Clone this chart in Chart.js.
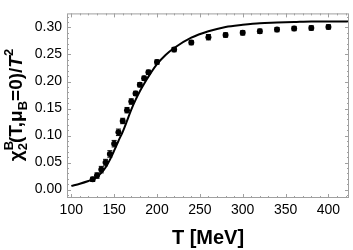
<!DOCTYPE html>
<html>
<head>
<meta charset="utf-8">
<script src="https://cdn.jsdelivr.net/npm/chart.js@4.4.1/dist/chart.umd.min.js"></script>
<style>
  html, body { margin: 0; padding: 0; background: #fff; }
  #wrap { width: 353px; height: 250px; }
</style>
</head>
<body>
<div id="wrap"><canvas id="c"></canvas></div>
<script>
// curva (modelo)
const curveT = [100, 110, 120, 125, 130, 135, 140, 145, 150, 155, 160, 165, 170, 175, 180, 185, 190, 200, 210, 220, 240, 260, 280, 300, 320, 340, 360, 380, 400, 424];
const curveChi = [0.0069, 0.011, 0.016, 0.019, 0.024, 0.031, 0.041, 0.055, 0.072, 0.090, 0.107, 0.127, 0.148, 0.166, 0.182, 0.196, 0.209, 0.232, 0.249, 0.262, 0.281, 0.293, 0.301, 0.305, 0.308, 0.309, 0.310, 0.311, 0.311, 0.311];

// datos de lattice
const latT = [125, 130, 135, 140, 145, 150, 155, 160, 165, 170, 175, 180, 185, 190, 200, 220, 240, 260, 280, 300, 320, 340, 360, 380, 400];
const latChi = [0.019, 0.026, 0.037, 0.050, 0.066, 0.085, 0.106, 0.127, 0.147, 0.163, 0.178, 0.194, 0.206, 0.217, 0.236, 0.259, 0.272, 0.282, 0.286, 0.290, 0.293, 0.296, 0.298, 0.299, 0.301];
const latErr = [0.004, 0.005, 0.006, 0.006, 0.006, 0.006, 0.006, 0.005, 0.005, 0.005, 0.004, 0.004, 0.004, 0.004, 0.004, 0.004, 0.004, 0.005, 0.004, 0.004, 0.004, 0.004, 0.004, 0.004, 0.004];

const xTicks = [100, 150, 200, 250, 300, 350, 400];
const yTicks = [0.00, 0.05, 0.10, 0.15, 0.20, 0.25, 0.30];

const frameColor = '#a0a0a0';

// barras de error
const errorBars = {
  id: 'errorBars',
  afterDatasetsDraw(chart) {
    const { ctx, scales: { x, y } } = chart;
    ctx.save();
    ctx.strokeStyle = '#000';
    ctx.lineWidth = 1;
    latT.forEach((t, i) => {
      const px = x.getPixelForValue(t);
      const top = y.getPixelForValue(latChi[i] + latErr[i]);
      const bot = y.getPixelForValue(latChi[i] - latErr[i]);
      ctx.beginPath();
      ctx.moveTo(px, top); ctx.lineTo(px, bot);
      ctx.moveTo(px - 2.5, top); ctx.lineTo(px + 2.5, top);
      ctx.moveTo(px - 2.5, bot); ctx.lineTo(px + 2.5, bot);
      ctx.stroke();
    });
    ctx.restore();
  }
};

// marco con ticks hacia adentro (estilo Mathematica)
const frameTicks = {
  id: 'frameTicks',
  afterDraw(chart) {
    const { ctx, chartArea: a, scales: { x, y } } = chart;
    ctx.save();
    ctx.strokeStyle = frameColor;
    ctx.lineWidth = 1;
    ctx.strokeRect(a.left + 0.5, a.top + 0.5, a.right - a.left - 1, a.bottom - a.top - 1);
    ctx.beginPath();
    for (let t = 100; t <= 420; t += 10) {
      const px = Math.round(x.getPixelForValue(t)) + 0.5;
      const len = t % 50 === 0 ? 4 : 2;
      ctx.moveTo(px, a.bottom); ctx.lineTo(px, a.bottom - len);
      ctx.moveTo(px, a.top); ctx.lineTo(px, a.top + len);
    }
    for (let k = -1; k <= 32; k++) {
      const v = k / 100;
      const py = Math.round(y.getPixelForValue(v)) + 0.5;
      const len = k % 5 === 0 ? 4 : 2;
      ctx.moveTo(a.left, py); ctx.lineTo(a.left + len, py);
      ctx.moveTo(a.right, py); ctx.lineTo(a.right - len, py);
    }
    ctx.stroke();

    // título del eje y con subíndices/superíndices
    ctx.fillStyle = '#000';
    ctx.translate(22, 105);
    ctx.rotate(-Math.PI / 2);
    const big = 'bold 19px "Liberation Sans", Arial, sans-serif';
    const small = 'bold 13px "Liberation Sans", Arial, sans-serif';
    const parts = [
      ['χ', big, 0], ['2', small, 5], ['B', small, -9, true],
      ['(T,μ', big, 0], ['B', small, 5], ['=0)/', big, 0],
      ['T', 'italic ' + big, 0], ['2', small, -9]
    ];
    let w = 0;
    parts.forEach(p => { ctx.font = p[1]; if (!p[3]) w += ctx.measureText(p[0]).width; });
    let cx = -w / 2, prevW = 0;
    ctx.textBaseline = 'alphabetic';
    parts.forEach(p => {
      ctx.font = p[1];
      const pw = ctx.measureText(p[0]).width;
      const xx = p[3] ? cx - prevW : cx;
      ctx.fillText(p[0], xx, p[2]);
      if (!p[3]) { cx += pw; prevW = pw; }
    });
    ctx.restore();
  }
};

new Chart(document.getElementById('c'), {
  data: {
    datasets: [{
      type: 'line',
      data: curveT.map((t, i) => ({ x: t, y: curveChi[i] })),
      borderColor: '#000',
      borderWidth: 2,
      pointRadius: 0,
      cubicInterpolationMode: 'monotone',
      fill: false
    }, {
      type: 'scatter',
      data: latT.map((t, i) => ({ x: t, y: latChi[i] })),
      backgroundColor: '#000',
      borderColor: '#000',
      pointRadius: 3,
      pointBorderWidth: 0
    }]
  },
  options: {
    responsive: true,
    maintainAspectRatio: false,
    animation: false,
    layout: { padding: { left: 0, right: 3, top: 1, bottom: 0 } },
    plugins: { legend: { display: false }, tooltip: { enabled: false } },
    scales: {
      x: {
        type: 'linear',
        min: 95,
        max: 424,
        afterBuildTicks: s => { s.ticks = xTicks.map(v => ({ value: v })); },
        grid: { display: false, drawTicks: false },
        border: { display: false },
        ticks: { color: '#000', padding: 4, maxRotation: 0, font: { family: '"Liberation Sans", Arial, sans-serif', size: 14 } },
        title: {
          display: true,
          text: 'T [MeV]',
          color: '#000',
          padding: { top: 6, bottom: 0 },
          font: { family: '"Liberation Sans", Arial, sans-serif', size: 20, weight: 'bold' }
        },
        afterFit: s => { s.height = 52; }
      },
      y: {
        type: 'linear',
        min: -0.0155,
        max: 0.326,
        afterBuildTicks: s => { s.ticks = yTicks.map(v => ({ value: v })); },
        grid: { display: false, drawTicks: false },
        border: { display: false },
        ticks: {
          color: '#000',
          padding: 5,
          callback: v => v.toFixed(2),
          font: { family: '"Liberation Sans", Arial, sans-serif', size: 14 }
        },
        afterFit: s => { s.width = 67; }
      }
    }
  },
  plugins: [errorBars, frameTicks]
});
</script>
</body>
</html>
